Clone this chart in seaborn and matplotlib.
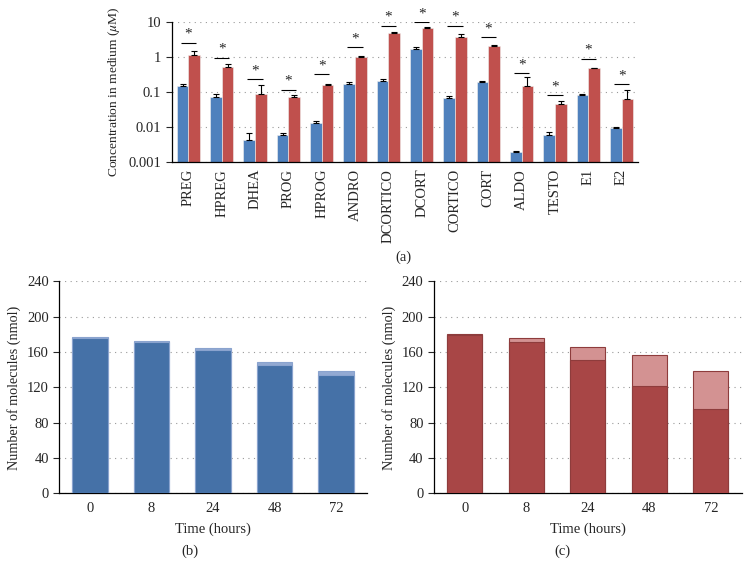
import numpy as np
import pandas as pd
import seaborn as sns
import matplotlib.pyplot as plt

# Panel (a) data: steroid concentrations (uM)
steroids = ['PREG', 'HPREG', 'DHEA', 'PROG', 'HPROG', 'ANDRO', 'DCORTICO',
            'DCORT', 'CORTICO', 'CORT', 'ALDO', 'TESTO', 'E1', 'E2']
conc_blue = [0.15, 0.073, 0.0041, 0.0057, 0.0126, 0.165, 0.2,
             1.7, 0.065, 0.19, 0.0019, 0.006, 0.082, 0.0095]
err_blue = [0.02, 0.015, 0.0028, 0.0008, 0.0018, 0.025, 0.037,
            0.18, 0.012, 0.02, 0.0002, 0.001, 0.003, 0.0005]
conc_red = [1.11, 0.52, 0.088, 0.07, 0.16, 1.0, 4.98,
            6.8, 3.6, 2.0, 0.147, 0.045, 0.47, 0.062]
err_red = [0.39, 0.11, 0.067, 0.013, 0.008, 0.03, 0.1,
           0.15, 0.8, 0.25, 0.113, 0.01, 0.015, 0.048]
sig_line = [2.5, 0.94, 0.23, 0.116, 0.32, 1.9, 7.6,
            9.8, 7.6, 3.6, 0.34, 0.08, 0.9, 0.165]

# Panels (b) and (c): number of molecules (nmol)
hours = ['0', '8', '24', '48', '72']
b_total = [177, 172.5, 165, 149, 139]
b_dark = [176, 171, 162.5, 145, 133.5]
c_total = [180, 176.4, 166, 157, 139]
c_dark = [179.5, 171.5, 150.5, 121.5, 95]

sns.set_style('white')
plt.rcParams['font.family'] = ['Liberation Serif', 'DejaVu Serif']
plt.rcParams['mathtext.fontset'] = 'stix'
plt.rcParams['font.size'] = 10.5

fig = plt.figure(figsize=(7.5, 5.78), dpi=100)
ax_a = fig.add_axes([0.229, 0.72, 0.622, 0.242])
ax_b = fig.add_axes([0.079, 0.1465, 0.410, 0.3665])
ax_c = fig.add_axes([0.5787, 0.1465, 0.410, 0.3665])

blue = '#4F81BD'
red = '#C0504D'

# ---- panel (a)
df_a = pd.DataFrame({
    'steroid': steroids * 2,
    'group': ['control'] * len(steroids) + ['exposed'] * len(steroids),
    'conc': conc_blue + conc_red,
})
ax_a.set_yscale('log')
sns.barplot(data=df_a, x='steroid', y='conc', hue='group',
            palette=[blue, red], saturation=1, width=0.7, legend=False, ax=ax_a,
            edgecolor='#f0f0f0', linewidth=0.4, zorder=2)

for cont, vals, errs in zip(ax_a.containers, [conc_blue, conc_red], [err_blue, err_red]):
    xs = [p.get_x() + p.get_width() / 2 for p in cont.patches]
    ax_a.errorbar(xs, vals, yerr=[np.zeros(len(vals)), errs], fmt='none',
                  ecolor='black', elinewidth=0.8, capsize=2.2, capthick=0.8, zorder=3)

xpos = np.arange(len(steroids))
ax_a.hlines(sig_line, xpos - 0.23, xpos + 0.23, color='black', linewidth=0.8, zorder=3)
for x, y in zip(xpos, sig_line):
    ax_a.text(x, y * 1.15, '*', ha='center', va='bottom', fontsize=11)

ax_a.set_ylim(0.001, 10)
ax_a.set_xlim(-0.5, len(steroids) - 0.5)
ax_a.set_yticks([0.001, 0.01, 0.1, 1, 10])
ax_a.set_yticklabels(['0.001', '0.01', '0.1', '1', '10'])
ax_a.yaxis.set_minor_locator(plt.NullLocator())
ax_a.set_xticks(xpos)
ax_a.set_xticklabels(steroids, rotation=90)
ax_a.set_xticks(np.arange(-0.5, len(steroids)), minor=True)
ax_a.tick_params(axis='x', which='major', length=0, pad=5)
ax_a.tick_params(axis='x', which='minor', length=4, width=0.8, direction='out')
ax_a.tick_params(axis='y', length=4, width=0.8, direction='out', left=True)
ax_a.set_xlabel('')
ax_a.set_ylabel(r'Concentration in medium ($\mu$M)', fontsize=9.7, labelpad=5)
ax_a.yaxis.grid(True, linestyle=(0, (1, 4)), color='#999999', linewidth=0.8)
ax_a.set_axisbelow(True)


def stacked_panel(ax, total, dark, c_dark, c_light, c_edge):
    df = pd.DataFrame({'hours': hours, 'total': total, 'dark': dark})
    sns.barplot(data=df, x='hours', y='total', color=c_light, saturation=1, width=0.57,
                edgecolor=c_edge, linewidth=0.8, ax=ax, zorder=2)
    sns.barplot(data=df, x='hours', y='dark', color=c_dark, saturation=1, width=0.57,
                edgecolor=c_edge, linewidth=0.8, ax=ax, zorder=3)
    ax.set_ylim(0, 240)
    ax.set_xlim(-0.5, len(hours) - 0.5)
    ax.set_yticks(np.arange(0, 241, 40))
    ax.set_xticks(np.arange(-0.5, len(hours)), minor=True)
    ax.tick_params(axis='x', which='major', length=0, pad=6)
    ax.tick_params(axis='x', which='minor', length=4, width=0.8, direction='out')
    ax.tick_params(axis='y', length=4, width=0.8, direction='out', left=True)
    ax.set_xlabel('Time (hours)', labelpad=6)
    ax.set_ylabel('Number of molecules (nmol)', fontsize=10.2, labelpad=4)
    ax.yaxis.grid(True, linestyle=(0, (1, 4)), color='#999999', linewidth=0.8)
    ax.set_axisbelow(True)


stacked_panel(ax_b, b_total, b_dark, '#4571A7', '#93AAD3', '#8AA3CE')
stacked_panel(ax_c, c_total, c_dark, '#A84646', '#D39292', '#8E3C3C')

for ax in (ax_a, ax_b, ax_c):
    sns.despine(ax=ax)
    for s in ('left', 'bottom'):
        ax.spines[s].set_color('black')
        ax.spines[s].set_linewidth(0.9)

fig.text(403 / 750, 1 - 257 / 578, '(a)', ha='center', va='center', fontsize=10.5)
fig.text(190 / 750, 1 - 551 / 578, '(b)', ha='center', va='center', fontsize=10.5)
fig.text(562 / 750, 1 - 551 / 578, '(c)', ha='center', va='center', fontsize=10.5)

fig.savefig('out.png', dpi=100)
